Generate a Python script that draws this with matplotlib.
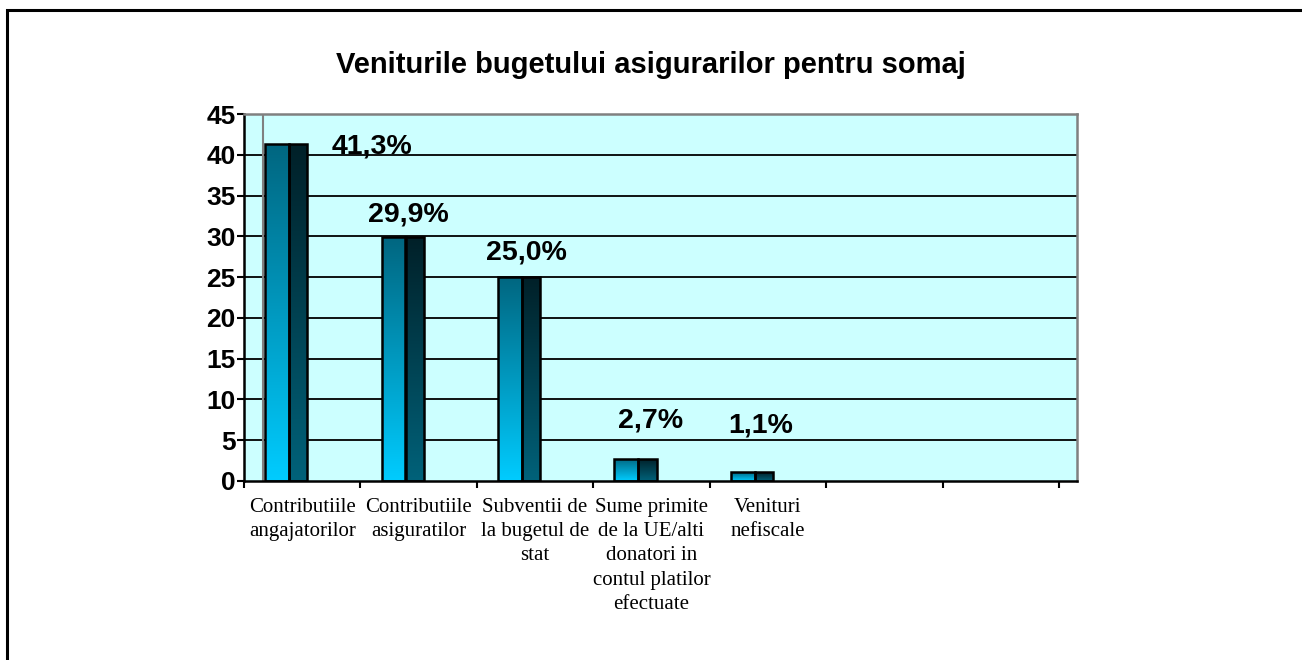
import numpy as np
import matplotlib.pyplot as plt
from matplotlib.patches import Rectangle

# date grafic
categorii = ['Contributiile\nangajatorilor', 'Contributiile\nasiguratilor',
             'Subventii de\nla bugetul de\nstat',
             'Sume primite\nde la UE/alti\ndonatori in\ncontul platilor\nefectuate',
             'Venituri\nnefiscale']
valori = [41.3, 29.9, 25.0, 2.7, 1.1]
etichete = ['41,3%', '29,9%', '25,0%', '2,7%', '1,1%']
# pozitia etichetelor (ca in excel, nu chiar deasupra barelor)
etich_x = [0.60, 0.91, 1.93, 2.99, 3.94]
etich_y = [40.2, 31.8, 27.1, 6.6, 5.9]
nr_sloturi = 7

W, H = 1302, 660
fig = plt.figure(figsize=(W / 100, H / 100), dpi=100)
ax = fig.add_axes([244 / W, (H - 481) / H, (1077 - 244) / W, (481 - 114) / H])

ax.set_facecolor('#CCFFFF')

# linii de grila
for v in range(5, 45, 5):
    ax.axhline(v, color='black', lw=1.3, zorder=1)
ax.axvline(-0.337, color='#808080', lw=1.5, zorder=1)

# gradient pentru fata si lateral
def gradient(c_jos, c_sus):
    t = np.linspace(0, 1, 256)[:, None]
    a = np.array(c_jos)[None, :] * (1 - t) + np.array(c_sus)[None, :] * t
    return a[:, None, :]

def hex2rgb(h):
    h = h.lstrip('#')
    return [int(h[i:i + 2], 16) / 255 for i in (0, 2, 4)]

grad_fata = gradient(hex2rgb('#00CCFF'), hex2rgb('#006680'))
grad_lat = gradient(hex2rgb('#00627A'), hex2rgb('#002028'))

x = np.arange(len(valori))
fata = ax.bar(x - 0.215, valori, width=0.206, facecolor='none',
              edgecolor='black', lw=1.8, zorder=3)
lat = ax.bar(x - 0.035, valori, width=0.16, facecolor='none',
             edgecolor='black', lw=1.8, zorder=3)

for bare, g in [(fata, grad_fata), (lat, grad_lat)]:
    for b in bare:
        x0 = b.get_x()
        im = ax.imshow(g, extent=[x0, x0 + b.get_width(), 0, b.get_height()],
                       origin='lower', aspect='auto', zorder=2)
        im.set_clip_path(b)

ax.set_xlim(-0.5, nr_sloturi - 0.5 + 0.155)
ax.set_ylim(0, 45)

for tx, ty, s in zip(etich_x, etich_y, etichete):
    ax.text(tx, ty, s, ha='center', va='baseline', fontsize=20.5,
            fontweight='bold', family='Liberation Sans', zorder=4)

# axe
for s in ['left', 'bottom']:
    ax.spines[s].set_color('black')
    ax.spines[s].set_linewidth(1.8)
for s in ['top', 'right']:
    ax.spines[s].set_color('#808080')
    ax.spines[s].set_linewidth(1.8)

ax.set_yticks(range(0, 50, 5))
ax.tick_params(axis='y', length=5, width=1.5, pad=1, labelsize=19)
for lb in ax.get_yticklabels():
    lb.set_fontweight('bold')
    lb.set_family('Liberation Sans')

ax.set_xticks(x)
ax.set_xticklabels(categorii, family='Liberation Serif', fontsize=15,
                   linespacing=1.38)
ax.set_xticks(np.arange(-0.5, nr_sloturi, 1.0), minor=True)
ax.tick_params(axis='x', which='major', length=0, pad=12)
ax.tick_params(axis='x', which='minor', length=5, width=1.5)

fig.text(0.5, 1 - 65 / H, 'Veniturile bugetului asigurarilor pentru somaj',
         ha='center', va='center', fontsize=21, fontweight='bold',
         family='Liberation Sans')

# chenar exterior
fig.patches.append(Rectangle((7 / W, -0.1), 1.2, 1 - 10 / H + 0.1,
                             transform=fig.transFigure, fill=False,
                             lw=2.2, edgecolor='black'))

fig.savefig('out.png', dpi=100)
